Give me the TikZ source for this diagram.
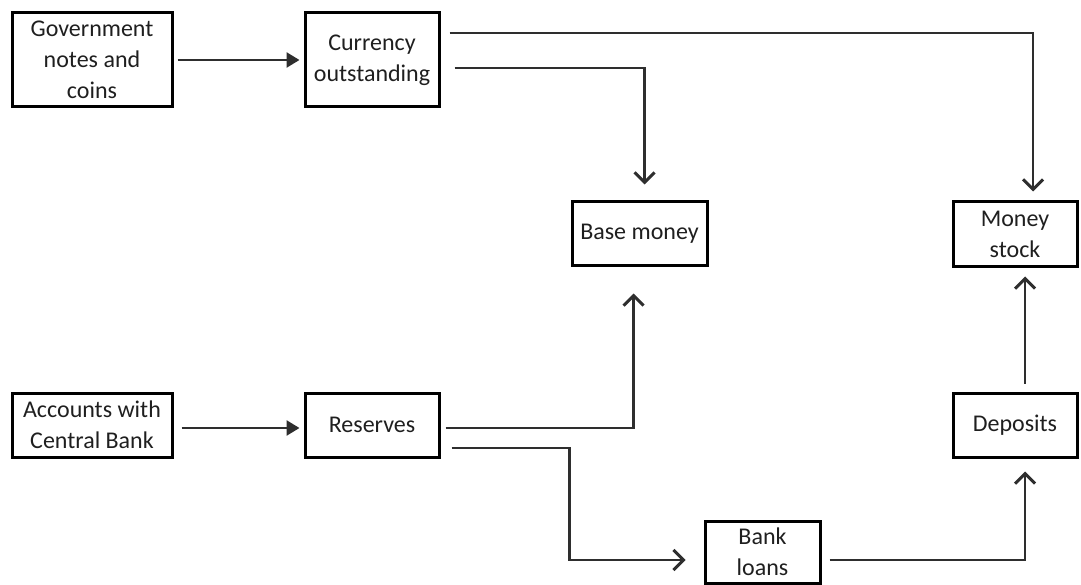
\documentclass[tikz,border=0pt]{standalone}
\usepackage{fontspec}
\setmainfont{Carlito}
\usetikzlibrary{arrows.meta}
\begin{document}
\begin{tikzpicture}[x=1pt,y=-1pt,
  box/.style={draw=black, line width=3pt, inner sep=0pt, align=center,
    text=black!88, font=\fontsize{24}{31}\selectfont},
  conn/.style={draw=black!82, line width=2.6pt},
  filledarr/.style={conn, -{Triangle[length=13pt,width=15pt]}},
  openarr/.style={conn, -{Straight Barb[length=10pt,width=20pt,line width=3pt]}}]
\useasboundingbox (0,0) rectangle (1081,585);
\node[box, minimum width=160pt, minimum height=94pt] (gov) at (92,60) {Government\\notes and\\coins};
\node[box, minimum width=134pt, minimum height=94pt] (cur) at (372,60) {Currency\\outstanding};
\node[box, minimum width=135pt, minimum height=64pt] (base) at (639.5,234) {Base money};
\node[box, minimum width=124pt, minimum height=65pt] (money) at (1015,234.5) {Money\\stock};
\node[box, minimum width=160pt, minimum height=64pt] (acc) at (92,425) {Accounts with\\Central Bank};
\node[box, minimum width=134pt, minimum height=64pt] (res) at (372,425) {Reserves};
\node[box, minimum width=124pt, minimum height=64pt] (dep) at (1015,425) {Deposits};
\node[box, minimum width=115pt, minimum height=62pt] (loans) at (762.5,552) {Bank\\loans};

\draw[filledarr, shorten <=4pt, shorten >=4pt] (gov.east) -- (cur.west);
\draw[filledarr, shorten <=8pt, shorten >=4pt] ([yshift=-3pt]acc.east) -- ([yshift=-3pt]res.west);
\draw[openarr, shorten <=9pt, shorten >=9pt] ([yshift=27pt]cur.east) -| ([xshift=18pt]money.north);
\draw[openarr, shorten <=14pt, shorten >=16pt] ([yshift=-8pt]cur.east) -| ([xshift=5pt]base.north);
\draw[openarr, shorten <=5pt, shorten >=26pt] ([yshift=-3pt]res.east) -| ([xshift=-6pt]base.south);
\draw[openarr, shorten <=11pt, shorten >=18pt] ([yshift=-23pt]res.east) -- ++(129pt,0) |- ([yshift=-8pt]loans.west);
\draw[openarr, shorten <=8pt, shorten >=13pt] ([yshift=-8pt]loans.east) -| ([xshift=10pt]dep.south);
\draw[openarr, shorten <=8pt, shorten >=8pt] ([xshift=10pt]dep.north) -- ([xshift=10pt]money.south);
\end{tikzpicture}
\end{document}
